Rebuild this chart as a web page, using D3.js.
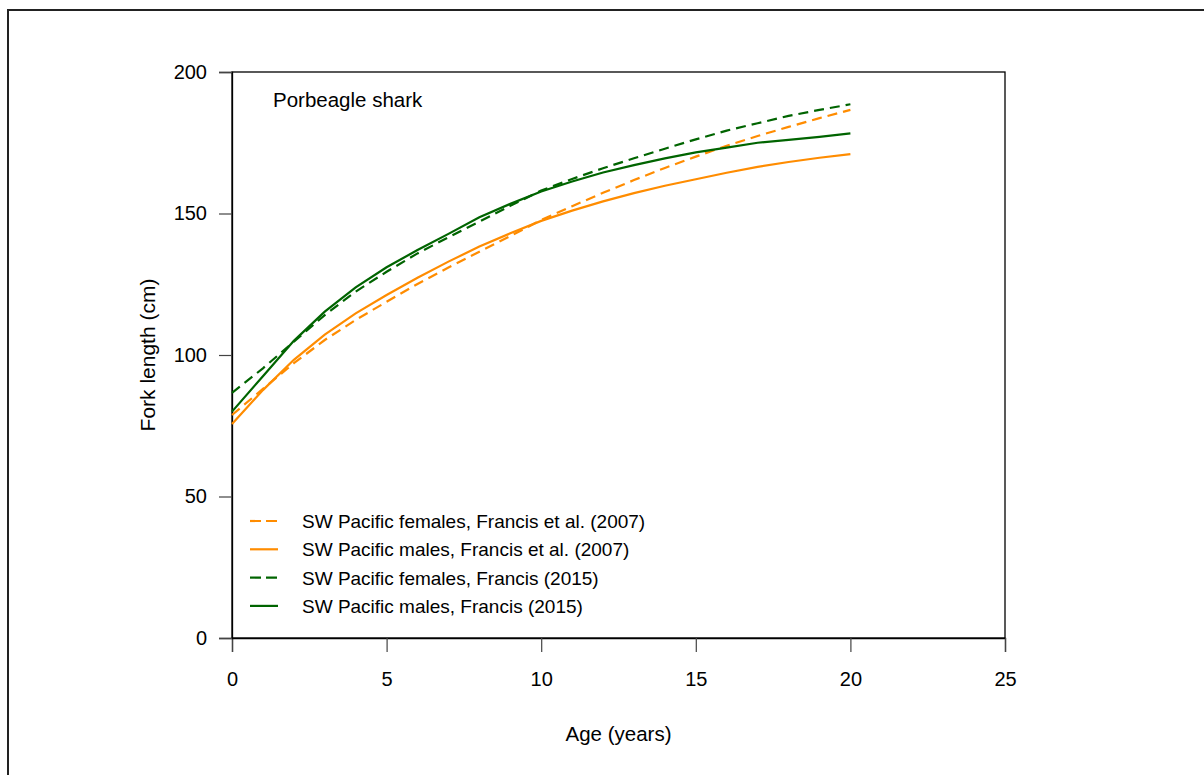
<!DOCTYPE html>
<html>
<head>
<meta charset="utf-8">
<script src="https://cdn.jsdelivr.net/npm/d3@7"></script>
<style>
	body { margin: 0; background: #fff; }
	svg { display: block; font-family: "Liberation Sans", Arial, sans-serif; }
</style>
</head>
<body>
<script>
// ages 0..20 (years)
var ages = d3.range(0, 21);

// fork length (cm) at each age
var females2007 = [78.8, 88.0, 97.1, 105.3, 112.4, 118.8, 125.1, 130.9, 136.5, 142.0, 147.7,
	152.6, 157.3, 161.8, 166.1, 170.1, 173.9, 177.4, 180.6, 183.7, 186.6];
var males2007 = [75.6, 87.6, 98.3, 107.2, 114.7, 121.2, 127.3, 133.0, 138.3, 143.0, 147.4,
	151.0, 154.3, 157.2, 159.8, 162.1, 164.4, 166.5, 168.2, 169.7, 171.0];
var females2015 = [86.6, 95.3, 104.7, 114.1, 122.4, 129.4, 135.9, 141.6, 147.1, 152.7, 158.1,
	162.2, 166.0, 169.5, 172.9, 176.2, 179.3, 181.9, 184.5, 186.6, 188.6];
var males2015 = [80.0, 92.5, 105.0, 115.3, 123.9, 131.0, 137.1, 142.8, 148.7, 153.4, 157.8,
	161.3, 164.5, 167.1, 169.5, 171.6, 173.3, 175.0, 176.0, 177.1, 178.3];

var xTicks = [0, 5, 10, 15, 20, 25];
var yTicks = [0, 50, 100, 150, 200];

var series = [
	{name: 'SW Pacific females, Francis et al. (2007)', values: females2007, color: '#ff8c00', dash: '10,6'},
	{name: 'SW Pacific males, Francis et al. (2007)', values: males2007, color: '#ff8c00', dash: null},
	{name: 'SW Pacific females, Francis (2015)', values: females2015, color: '#006400', dash: '10,6'},
	{name: 'SW Pacific males, Francis (2015)', values: males2015, color: '#006400', dash: null}
];

drawChart();

function drawChart(){
	var width = 1204, height = 775;
	var plotLeft = 232, plotRight = 1005, plotTop = 72, plotBottom = 638;

	var svg = d3.select('body').append('svg')
		.attr('width', width)
		.attr('height', height);

	// outer frame (runs off the right/bottom of the picture)
	svg.append('rect')
		.attr('x', 8).attr('y', 10)
		.attr('width', 1210).attr('height', 800)
		.attr('fill', 'none')
		.attr('stroke', '#222')
		.attr('stroke-width', 2);

	var x = d3.scaleLinear().domain([0, 25]).range([plotLeft, plotRight]);
	var y = d3.scaleLinear().domain([0, 200]).range([plotBottom, plotTop]);

	// box
	svg.append('rect')
		.attr('x', plotLeft).attr('y', plotTop)
		.attr('width', plotRight - plotLeft).attr('height', plotBottom - plotTop)
		.attr('fill', 'none')
		.attr('stroke', '#000')
		.attr('stroke-width', 1.3);

	var xAxis = svg.append('g')
		.attr('transform', 'translate(0,' + plotBottom + ')')
		.call(d3.axisBottom(x).tickValues(xTicks).tickSize(14).tickPadding(20).tickFormat(d3.format('d')));

	var yAxis = svg.append('g')
		.attr('transform', 'translate(' + plotLeft + ',0)')
		.call(d3.axisLeft(y).tickValues(yTicks).tickSize(13).tickPadding(12).tickFormat(d3.format('d')));

	[xAxis, yAxis].forEach(function(g){
		g.attr('font-size', null).attr('font-family', null);
		g.select('.domain').attr('stroke', '#000').attr('stroke-width', 1.3);
		g.selectAll('.tick line').attr('stroke', '#444').attr('stroke-width', 1.2);
		g.selectAll('.tick text')
			.attr('fill', '#000')
			.style('font-size', '20px');
	});

	var line = d3.line()
		.x(function(d, i){ return x(ages[i]); })
		.y(function(d){ return y(d); });

	svg.append('g')
		.selectAll('path')
		.data(series)
		.enter()
		.append('path')
		.attr('d', function(d){ return line(d.values); })
		.attr('fill', 'none')
		.attr('stroke', function(d){ return d.color; })
		.attr('stroke-width', 2.2)
		.attr('stroke-dasharray', function(d){ return d.dash; });

	// panel title
	svg.append('text')
		.attr('x', 273).attr('y', 107)
		.style('font-size', '20.5px')
		.text('Porbeagle shark');

	// axis titles
	svg.append('text')
		.attr('x', (plotLeft + plotRight) / 2).attr('y', 741)
		.attr('text-anchor', 'middle')
		.style('font-size', '20.5px')
		.text('Age (years)');

	svg.append('text')
		.attr('transform', 'translate(155,' + ((plotTop + plotBottom) / 2) + ') rotate(-90)')
		.attr('text-anchor', 'middle')
		.style('font-size', '21px')
		.text('Fork length (cm)');

	// legend
	var legend = svg.append('g')
		.selectAll('g')
		.data(series)
		.enter()
		.append('g')
		.attr('transform', function(d, i){ return 'translate(250,' + (521 + i * 28.3) + ')'; });

	legend.append('line')
		.attr('x1', 0).attr('x2', 28)
		.attr('y1', 0).attr('y2', 0)
		.attr('stroke', function(d){ return d.color; })
		.attr('stroke-width', 2.2)
		.attr('stroke-dasharray', function(d){ return d.dash ? '11,5' : null; });

	legend.append('text')
		.attr('x', 52).attr('y', 7)
		.style('font-size', '19px')
		.text(function(d){ return d.name; });
}
</script>
</body>
</html>
